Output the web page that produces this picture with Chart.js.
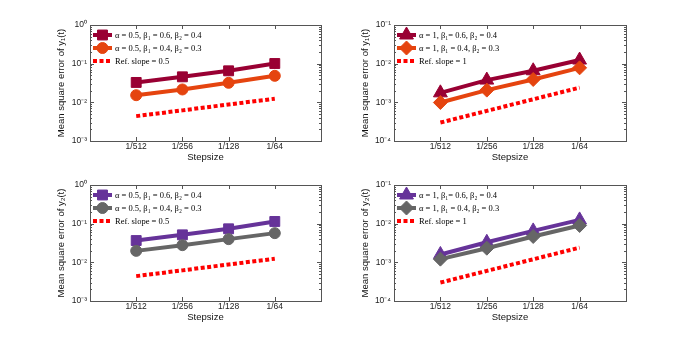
<!DOCTYPE html>
<html>
<head>
<meta charset="utf-8">
<script src="https://cdn.jsdelivr.net/npm/chart.js@4.4.1/dist/chart.umd.min.js"></script>
<style>
  html, body { margin: 0; padding: 0; background: #fff; }
  #wrap { position: relative; width: 692px; height: 339px; }
  #wrap canvas { position: absolute; left: 0; top: 0; }
</style>
</head>
<body>
<div id="wrap">
  <canvas id="c1" width="692" height="339"></canvas>
  <canvas id="c2" width="692" height="339"></canvas>
  <canvas id="c3" width="692" height="339"></canvas>
  <canvas id="c4" width="692" height="339"></canvas>
</div>
<script>
// x positions are log2 of the step size
const stepExp = [-9, -8, -7, -6];
const stepLabels = ['1/512', '1/256', '1/128', '1/64'];

// y1(t) errors
const y1Alpha05A = [0.0327, 0.0457, 0.0653, 0.101];
const y1Alpha05B = [0.0153, 0.0215, 0.032, 0.0485];
const y1Alpha1A = [0.00176, 0.00376, 0.00655, 0.0124];
const y1Alpha1B = [0.00099, 0.00207, 0.0039, 0.0078];

// y2(t) errors
const y2Alpha05A = [0.0366, 0.0514, 0.0736, 0.114];
const y2Alpha05B = [0.0198, 0.0278, 0.0398, 0.0569];
const y2Alpha1A = [0.0016, 0.0033, 0.0065, 0.0125];
const y2Alpha1B = [0.00121, 0.00232, 0.00466, 0.00898];

// reference slopes
const refSlopeHalf = [0.0044, 0.0062, 0.0088, 0.0124];
const refSlopeOne = [0.0003, 0.0006, 0.0012, 0.0024];

// legend labels
const labelsAlpha05 = ['α = 0.5, β₁ = 0.6, β₂ = 0.4', 'α = 0.5, β₁ = 0.4, β₂ = 0.3', 'Ref. slope = 0.5'];
const labelsAlpha1 = ['α = 1, β₁= 0.6, β₂ = 0.4', 'α = 1, β₁ = 0.4, β₂ = 0.3', 'Ref. slope = 1'];

// y decades
const decadesA = [1e-3, 1e-2, 1e-1, 1];
const decadeLabelsA = ['10⁻³', '10⁻²', '10⁻¹', '10⁰'];
const decadesB = [1e-4, 1e-3, 1e-2, 1e-1];
const decadeLabelsB = ['10⁻⁴', '10⁻³', '10⁻²', '10⁻¹'];

const SANS = "'Liberation Sans', Arial, sans-serif";
const SERIF = "'Liberation Serif', 'Times New Roman', serif";
const DARK_RED = '#990033';
const ORANGE = '#e5440f';
const PURPLE = '#663399';
const GRAY = '#666666';
const REF_RED = '#ff0000';

const framePlugin = {
    id: 'frame',
    afterDraw(chart) {
        const { ctx, chartArea: a, scales: { x, y } } = chart;
        ctx.save();
        ctx.strokeStyle = '#555';
        ctx.lineWidth = 1;
        ctx.setLineDash([]);
        ctx.strokeRect(Math.round(a.left) + 0.5, Math.round(a.top) + 0.5,
            Math.round(a.right - a.left), Math.round(a.bottom - a.top));

        ctx.beginPath();
        // y ticks, major and minor, pointing in on both sides
        const lo = Math.round(Math.log10(y.min));
        const hi = Math.round(Math.log10(y.max));
        for (let e = lo; e <= hi; e++) {
            for (let m = 1; m <= 9; m++) {
                const v = m * Math.pow(10, e);
                if (v > y.max * 1.0001) break;
                const py = Math.round(y.getPixelForValue(v)) + 0.5;
                const len = m === 1 ? 4 : 2;
                ctx.moveTo(a.left, py); ctx.lineTo(a.left + len, py);
                ctx.moveTo(a.right, py); ctx.lineTo(a.right - len, py);
            }
        }
        // x ticks
        stepExp.forEach(v => {
            const px = Math.round(x.getPixelForValue(v)) + 0.5;
            ctx.moveTo(px, a.bottom); ctx.lineTo(px, a.bottom - 4);
            ctx.moveTo(px, a.top); ctx.lineTo(px, a.top + 4);
        });
        ctx.stroke();
        ctx.restore();
    }
};

const legendPlugin = {
    id: 'boxLegend',
    afterDraw(chart) {
        const { ctx, chartArea: a } = chart;
        ctx.save();
        chart.data.datasets.forEach((ds, i) => {
            const yy = a.top + 10 + i * 13;
            ctx.lineWidth = ds.borderWidth;
            ctx.strokeStyle = ds.borderColor;
            ctx.setLineDash(ds.borderDash || []);
            ctx.lineCap = 'butt';
            ctx.beginPath();
            ctx.moveTo(a.left + 3, yy);
            ctx.lineTo(a.left + 22, yy);
            ctx.stroke();
            ctx.setLineDash([]);
            if (ds.pointRadius > 0) {
                ctx.fillStyle = ds.pointBackgroundColor;
                ctx.strokeStyle = ds.pointBorderColor;
                ctx.lineWidth = ds.pointBorderWidth;
                Chart.helpers.drawPoint(ctx, {
                    pointStyle: ds.pointStyle,
                    radius: ds.pointRadius,
                    borderWidth: ds.pointBorderWidth,
                    rotation: 0
                }, a.left + 12.5, yy);
            }
            ctx.fillStyle = '#000';
            ctx.font = '8.5px ' + SERIF;
            ctx.textBaseline = 'middle';
            ctx.textAlign = 'left';
            ctx.fillText(ds.label, a.left + 25, yy + 0.5);
        });
        ctx.restore();
    }
};

function series(label, values, color, style, radius, order) {
    return {
        label: label,
        data: values.map((v, i) => ({ x: stepExp[i], y: v })),
        borderColor: color,
        backgroundColor: color,
        borderWidth: 4,
        pointStyle: style,
        pointRadius: radius,
        pointBackgroundColor: color,
        pointBorderColor: color,
        pointBorderWidth: 1,
        order: order
    };
}

function refSeries(label, values) {
    return {
        label: label,
        data: values.map((v, i) => ({ x: stepExp[i], y: v })),
        borderColor: REF_RED,
        borderWidth: 4,
        borderDash: [4, 2.5],
        borderCapStyle: 'butt',
        pointRadius: 0,
        order: 0
    };
}

function makePanel(id, area, datasets, decades, decadeLabels, yTitle) {
    const yWidth = 38;
    new Chart(document.getElementById(id), {
        type: 'line',
        data: { datasets: datasets },
        options: {
            responsive: false,
            animation: false,
            events: [],
            layout: {
                padding: {
                    left: area.left - yWidth,
                    top: area.top,
                    right: 692 - area.right,
                    bottom: 339 - area.bottom - 22
                }
            },
            plugins: { legend: { display: false }, tooltip: { enabled: false } },
            scales: {
                x: {
                    type: 'linear',
                    min: -10,
                    max: -5,
                    afterBuildTicks: s => { s.ticks = stepExp.map(v => ({ value: v })); },
                    afterFit: s => { s.height = 22; },
                    grid: { display: false, drawTicks: false },
                    border: { display: false },
                    ticks: {
                        autoSkip: false,
                        maxRotation: 0,
                        padding: 1,
                        color: '#222',
                        font: { family: SANS, size: 8.5 },
                        callback: v => {
                            const i = stepExp.indexOf(v);
                            return i >= 0 ? stepLabels[i] : '';
                        }
                    },
                    title: {
                        display: true,
                        text: 'Stepsize',
                        color: '#111',
                        padding: 0,
                        font: { family: SANS, size: 9.5 }
                    }
                },
                y: {
                    type: 'logarithmic',
                    min: decades[0],
                    max: decades[decades.length - 1],
                    afterBuildTicks: s => { s.ticks = decades.map(v => ({ value: v })); },
                    afterFit: s => { s.width = yWidth; },
                    grid: { display: false, drawTicks: false },
                    border: { display: false },
                    ticks: {
                        autoSkip: false,
                        padding: 3,
                        color: '#222',
                        font: { family: SANS, size: 8.5 },
                        callback: v => {
                            const i = decades.findIndex(d => Math.abs(Math.log10(d) - Math.log10(v)) < 1e-6);
                            return i >= 0 ? decadeLabels[i] : '';
                        }
                    },
                    title: {
                        display: true,
                        text: yTitle,
                        color: '#111',
                        padding: { top: 4, bottom: 0 },
                        font: { family: SANS, size: 9.5 }
                    }
                }
            }
        },
        plugins: [framePlugin, legendPlugin]
    });
}

makePanel('c1', { left: 90, top: 25, right: 321, bottom: 141 }, [
    series(labelsAlpha05[0], y1Alpha05A, DARK_RED, 'rect', 7, 2),
    series(labelsAlpha05[1], y1Alpha05B, ORANGE, 'circle', 5.5, 1),
    refSeries(labelsAlpha05[2], refSlopeHalf)
], decadesA, decadeLabelsA, 'Mean square error of y₁(t)');

makePanel('c2', { left: 394, top: 25, right: 626, bottom: 141 }, [
    series(labelsAlpha1[0], y1Alpha1A, DARK_RED, 'triangle', 8, 2),
    series(labelsAlpha1[1], y1Alpha1B, ORANGE, 'rectRot', 7, 1),
    refSeries(labelsAlpha1[2], refSlopeOne)
], decadesB, decadeLabelsB, 'Mean square error of y₁(t)');

makePanel('c3', { left: 90, top: 185, right: 321, bottom: 301 }, [
    series(labelsAlpha05[0], y2Alpha05A, PURPLE, 'rect', 7, 2),
    series(labelsAlpha05[1], y2Alpha05B, GRAY, 'circle', 5.5, 1),
    refSeries(labelsAlpha05[2], refSlopeHalf)
], decadesA, decadeLabelsA, 'Mean square error of y₂(t)');

makePanel('c4', { left: 394, top: 185, right: 626, bottom: 301 }, [
    series(labelsAlpha1[0], y2Alpha1A, PURPLE, 'triangle', 8, 2),
    series(labelsAlpha1[1], y2Alpha1B, GRAY, 'rectRot', 7, 1),
    refSeries(labelsAlpha1[2], refSlopeOne)
], decadesB, decadeLabelsB, 'Mean square error of y₂(t)');
</script>
</body>
</html>
